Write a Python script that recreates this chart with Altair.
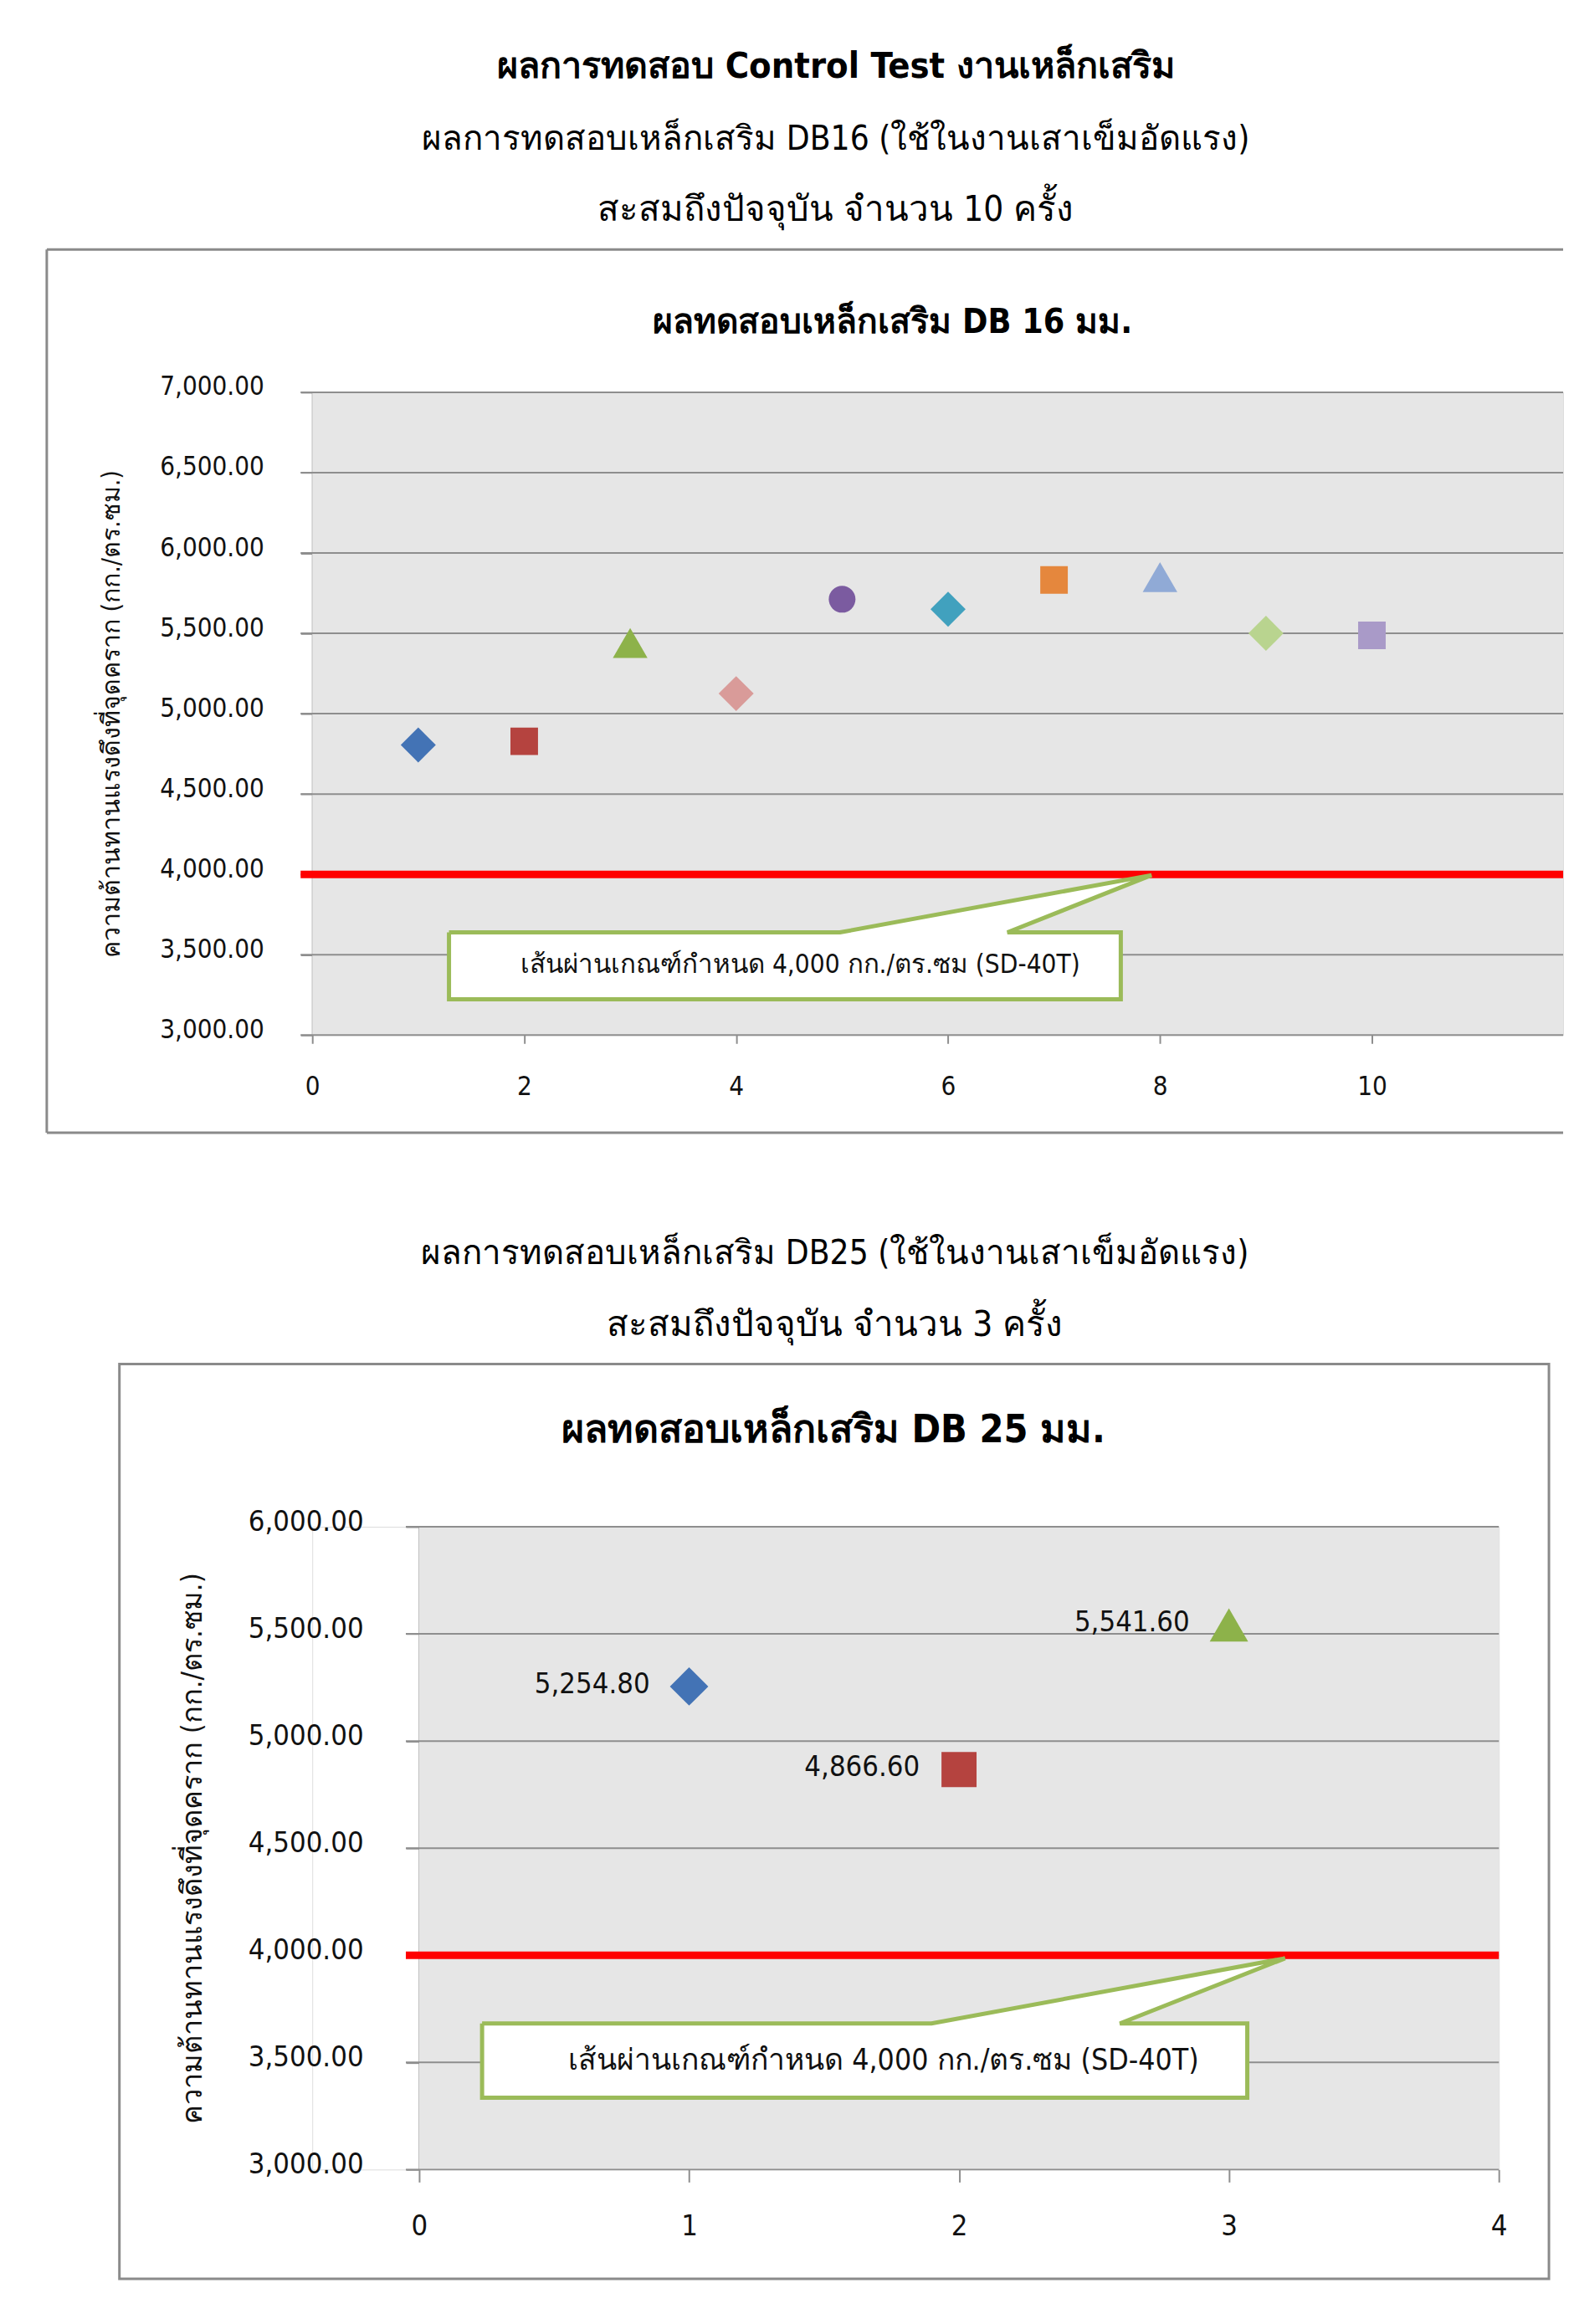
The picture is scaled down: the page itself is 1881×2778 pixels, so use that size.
import altair as alt
import pandas as pd

FONT = "DejaVu Sans Condensed, DejaVu Sans, sans-serif"
GRID = "#8E8E8E"
FRAME = "#8A8A8A"
GREEN = "#9BBB59"
PLOTBG = "#E6E6E6"

# ---------------- data: DB16 ----------------
db16_test = ["1", "2", "3", "4", "5", "6", "7", "8", "9", "10"]
db16_x = [1, 2, 3, 4, 5, 6, 7, 8, 9, 10]
db16_y = [4805, 4828, 5440, 5125, 5712, 5650, 5832, 5850, 5500, 5487]
db16_shapes = ["diamond", "square", "triangle-up", "diamond", "circle",
               "diamond", "square", "triangle-up", "diamond", "square"]
db16_colors = ["#4373B5", "#B5433F", "#8DB24A", "#D99B99", "#7B5BA0",
               "#41A1BE", "#E5873D", "#90AAD6", "#B9D48F", "#A99AC8"]
db16_marker_size = {"diamond": 1764, "square": 1089, "triangle-up": 1722, "circle": 1024}
db16_yticks = [3000, 3500, 4000, 4500, 5000, 5500, 6000, 6500, 7000]
db16_xticks = [0, 2, 4, 6, 8, 10]

# callout outline (data units of the DB16 chart)
call16_x = [1.29, 4.98, 7.92, 6.56, 7.63, 7.63, 1.29, 1.29]
call16_y = [3639, 3639, 3995, 3639, 3639, 3223, 3223, 3639]

# ---------------- data: DB25 ----------------
db25_test = ["1", "2", "3"]
db25_x = [1, 2, 3]
db25_y = [5254.80, 4866.60, 5541.60]
db25_shapes = ["diamond", "square", "triangle-up"]
db25_colors = ["#4F81BD", "#C0504D", "#9BBB59"]
db25_marker_size = {"diamond": 2116, "square": 1764, "triangle-up": 2116}
db25_yticks = [3000, 3500, 4000, 4500, 5000, 5500, 6000]
db25_xticks = [0, 1, 2, 3, 4]

call25_x = [0.233, 1.898, 3.208, 2.596, 3.068, 3.068, 0.233, 0.233]
call25_y = [3682, 3682, 3986, 3682, 3682, 3335, 3335, 3682]

threshold = 4000
callout_text = "เส้นผ่านเกณฑ์กำหนด 4,000 กก./ตร.ซม (SD-40T)"
y_title = "ความต้านทานแรงดึงที่จุดคราก  (กก./ตร.ซม.)"

page_title = "ผลการทดสอบ Control Test งานเหล็กเสริม"
db16_head = ["ผลการทดสอบเหล็กเสริม DB16 (ใช้ในงานเสาเข็มอัดแรง)", "สะสมถึงปัจจุบัน จำนวน 10 ครั้ง"]
db25_head = ["ผลการทดสอบเหล็กเสริม DB25 (ใช้ในงานเสาเข็มอัดแรง)", "สะสมถึงปัจจุบัน จำนวน 3 ครั้ง"]
db16_title = "ผลทดสอบเหล็กเสริม DB 16 มม."
db25_title = "ผลทดสอบเหล็กเสริม DB 25 มม."


def one():
    return alt.Data(values=[{"k": 0}])


def prule(x, x2, y, y2, color=FRAME, w=3, opacity=1.0):
    return alt.Chart(one()).mark_rule(color=color, strokeWidth=w, opacity=opacity).encode(
        x=alt.value(x), x2=alt.value(x2), y=alt.value(y), y2=alt.value(y2))


def ptext(txt, x, y, size, bold=False, color="#000000"):
    return alt.Chart(one()).mark_text(
        text=txt, fontSize=size, fontWeight="bold" if bold else "normal",
        align="center", baseline="middle", color=color, font=FONT
    ).encode(x=alt.value(x), y=alt.value(y))


def panel(test, xs, ys, shapes, colors, msize, cx, cy, xdom, ydom, yvals, xvals,
          H, lab_size, tick_y, pad_y, tick_x, pad_x, ytitle_x, ytitle_size,
          call_size, show_labels, y_offset, grid_start):
    pts = pd.DataFrame({"test": test, "x": xs, "y": ys, "shape": shapes})
    xsc = alt.Scale(domain=xdom, nice=False, zero=False)
    ysc = alt.Scale(domain=ydom, nice=False, zero=False)
    xaxis = alt.Axis(values=xvals, format="d", labelFontSize=lab_size, labelFont=FONT,
                     labelColor="#111111", tickSize=tick_x, tickColor=GRID, tickWidth=2,
                     domain=False, labelPadding=pad_x, labelFlush=False, grid=False, title=None)
    yaxis = alt.Axis(values=yvals, format=",.2f", labelFontSize=lab_size, labelFont=FONT,
                     labelColor="#111111", tickSize=tick_y, tickColor=GRID, tickWidth=2,
                     domainColor=GRID, domainWidth=2, labelPadding=pad_y, labelOffset=-6,
                     labelFlush=False, grid=False, offset=y_offset,
                     title=y_title, titleX=ytitle_x, titleY=H / 2, titleAngle=270,
                     titleAlign="center", titleBaseline="middle", titleFont=FONT,
                     titleFontSize=ytitle_size, titleFontWeight="normal", titleColor="#111111")
    X = lambda: alt.X("x:Q", scale=xsc, axis=xaxis)
    Y = lambda: alt.Y("y:Q", scale=ysc, axis=yaxis)

    # plot background (from axis origin to end of x domain)
    bgdf = pd.DataFrame({"x": [0], "x2": [xdom[1]], "y": [ydom[0]], "y2": [ydom[1]]})
    bg = alt.Chart(bgdf).mark_rect(color=PLOTBG).encode(
        x=X(), x2="x2:Q", y=Y(), y2="y2:Q")
    # horizontal gridlines (with their tick stubs left of the axis)
    gdf = pd.DataFrame({"y": yvals, "x": [grid_start] * len(yvals), "x2": [xdom[1]] * len(yvals)})
    grid = alt.Chart(gdf).mark_rule(color=GRID, strokeWidth=2).encode(
        x=X(), x2="x2:Q", y=Y())
    layers = [bg, grid]
    color = alt.Color("test:N", scale=alt.Scale(domain=test, range=colors), legend=None)
    for shp, sz in msize.items():
        layers.append(
            alt.Chart(pts).transform_filter(alt.datum.shape == shp)
            .mark_point(filled=True, opacity=1, shape=shp, size=sz)
            .encode(x=X(), y=Y(), color=color))
    rdf = pd.DataFrame({"y": [threshold], "x": [grid_start], "x2": [xdom[1]]})
    red = alt.Chart(rdf).mark_rule(color="#FF0000", strokeWidth=9).encode(
        x=X(), x2="x2:Q", y=Y())
    cdf = pd.DataFrame({"i": list(range(len(cx))), "x": cx, "y": cy})
    callout = alt.Chart(cdf).mark_line(fill="white", stroke=GREEN, strokeWidth=5,
                                       strokeJoin="miter", interpolate="linear").encode(
        x=X(), y=Y(), order="i:Q")
    tdf = pd.DataFrame({"x": [(min(cx) + max(cx)) / 2], "y": [(min(cy) + cy[0]) / 2]})
    ctext = alt.Chart(tdf).mark_text(text=callout_text, fontSize=call_size, font=FONT,
                                     align="center", baseline="middle", color="#111111").encode(
        x=X(), y=Y())
    layers += [red, callout, ctext]
    if show_labels:
        labs = alt.Chart(pts).mark_text(align="right", baseline="middle", dx=-47, dy=-2,
                                        fontSize=lab_size, font=FONT, color="#111111").encode(
            x=X(), y=Y(), text=alt.Text("y:Q", format=",.2f"))
        layers.append(labs)
    return layers


# ---------------- DB16 panel ----------------
WA, HA = 1498, 770
ua = 126.9  # px per x unit
layers_a = panel(db16_test, db16_x, db16_y, db16_shapes, db16_colors, db16_marker_size,
                 call16_x, call16_y, [0, WA / ua], [3000, 7000], db16_yticks, db16_xticks,
                 HA, 31.2, 14, 44, 10, 36, -240, 30.4, 31.4, False, 0, -14 / ua)
deco_a = [
    prule(-365, -364, -458, -458, opacity=0, w=1),
    prule(-365, -364, 934, 934, opacity=0, w=1),
    prule(-318, WA, -171, -171),
    prule(-318, -318, -171, 887),
    prule(-318, WA, 887, 887),
    ptext(page_title, 627, -390, 43.2, bold=True),
    ptext(db16_head[0], 627, -303, 40.4),
    ptext(db16_head[1], 627, -218, 42.1),
    ptext(db16_title, 695, -83, 40.9, bold=True),
]
chart_a = alt.layer(*(deco_a + layers_a)).properties(width=WA, height=HA)

# ---------------- DB25 panel ----------------
# plot area starts at the same page x as DB16; the value axis sits 128 px inside
ub = 323.2
shift_b = 128
WB, HB = round(4 * ub) + shift_b, 770
layers_b = panel(db25_test, db25_x, db25_y, db25_shapes, db25_colors, db25_marker_size,
                 call25_x, call25_y, [-shift_b / ub, 4], [3000, 6000], db25_yticks, db25_xticks,
                 HB, 34.5, 16, 51, 15, 36, -271, 34.5, 35.5, True, -shift_b, -16 / ub)
deco_b = [
    prule(-365, -364, -423, -423, opacity=0, w=1),
    alt.Chart(one()).mark_rect(fillOpacity=0, stroke=FRAME, strokeWidth=3).encode(
        x=alt.value(-359 + shift_b), x2=alt.value(1353 + shift_b),
        y=alt.value(-195), y2=alt.value(901)),
    ptext(db25_head[0], 498 + shift_b, -327, 40.4),
    ptext(db25_head[1], 498 + shift_b, -242, 42.2),
    ptext(db25_title, 496 + shift_b, -115, 46.5, bold=True),
]
chart_b = alt.layer(*(deco_b + layers_b)).properties(width=WB, height=HB)

chart = alt.vconcat(chart_a, chart_b, spacing=0, padding=0).configure_view(
    strokeWidth=0).configure(font=FONT)

chart.save("out.html", embed_options={"renderer": "svg", "actions": False})
